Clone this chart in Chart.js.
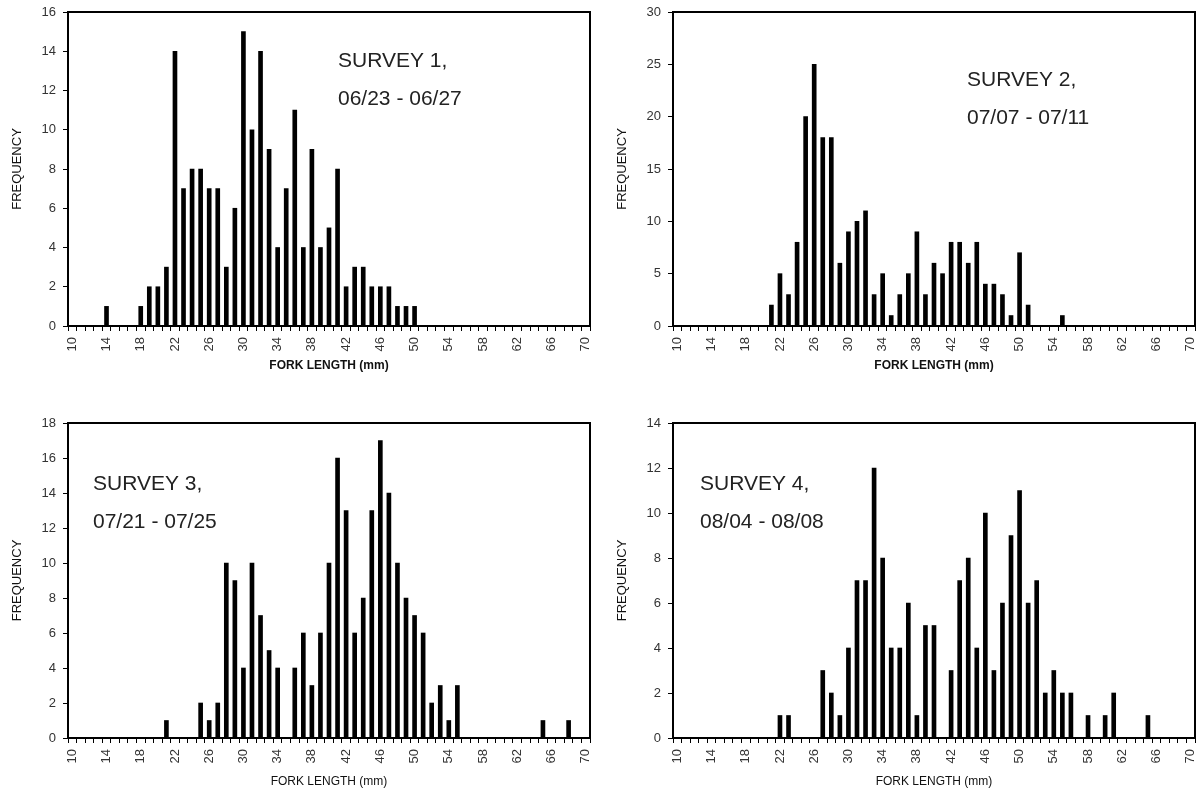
<!DOCTYPE html>
<html lang="en">
<head>
    <meta charset="UTF-8">
    <title>Fork Length Frequency by Survey</title>
    <script src="https://cdn.jsdelivr.net/npm/chart.js"></script>
    <style>
        body { margin: 0; background: #fff; width: 1199px; height: 793px; overflow: hidden; position: relative; }
        .panel { position: absolute; }
    </style>
</head>
<body>
    <div class="panel" style="left:0;top:0;"><canvas id="c1" width="600" height="377"></canvas></div>
    <div class="panel" style="left:605px;top:0;"><canvas id="c2" width="594" height="377"></canvas></div>
    <div class="panel" style="left:0;top:411px;"><canvas id="c3" width="600" height="382"></canvas></div>
    <div class="panel" style="left:605px;top:411px;"><canvas id="c4" width="594" height="382"></canvas></div>

    <script>
        // fork length classes (mm) and the labelled ones
        const forkLengths = ["10","11","12","13","14","15","16","17","18","19","20","21","22","23","24","25","26","27","28","29",
            "30","31","32","33","34","35","36","37","38","39","40","41","42","43","44","45","46","47","48","49",
            "50","51","52","53","54","55","56","57","58","59","60","61","62","63","64","65","66","67","68","69","70"];
        const xTickLabels = ["10","14","18","22","26","30","34","38","42","46","50","54","58","62","66","70"];

        // frequencies, one value per fork length 10..70
        const survey1 = [0,0,0,0,1,0,0,0,1,2, 2,3,14,7,8,8,7,7,3,6, 15,10,14,9,4,7,11,4,9,4,
            5,8,2,3,3,2,2,2,1,1, 1,0,0,0,0,0,0,0,0,0, 0,0,0,0,0,0,0,0,0,0, 0];
        const survey2 = [0,0,0,0,0,0,0,0,0,0, 0,2,5,3,8,20,25,18,18,6, 9,10,11,3,5,1,3,5,9,3,
            6,5,8,8,6,8,4,4,3,1, 7,2,0,0,0,1,0,0,0,0, 0,0,0,0,0,0,0,0,0,0, 0];
        const survey3 = [0,0,0,0,0,0,0,0,0,0, 0,1,0,0,0,2,1,2,10,9, 4,10,7,5,4,0,4,6,3,6,
            10,16,13,6,8,13,17,14,10,8, 7,6,2,3,1,3,0,0,0,0, 0,0,0,0,0,1,0,0,1,0, 0];
        const survey4 = [0,0,0,0,0,0,0,0,0,0, 0,0,1,1,0,0,0,3,2,1, 4,7,7,12,8,4,4,6,1,5,
            5,0,3,7,8,4,10,3,6,9, 11,6,7,2,3,2,2,0,1,0, 1,2,0,0,0,1,0,0,0,0, 0];

        const yMax = [16, 30, 18, 14];
        const yStep = [2, 5, 2, 2];
        const surveyNames = ["SURVEY 1,", "SURVEY 2,", "SURVEY 3,", "SURVEY 4,"];
        const surveyDates = ["06/23 - 06/27", "07/07 - 07/11", "07/21 - 07/25", "08/04 - 08/08"];

        const FONT = "'Liberation Sans', Arial, sans-serif";

        // box round the plot area (top and right sides)
        const frame = {
            id: "frame",
            afterDraw(chart) {
                const a = chart.chartArea, ctx = chart.ctx;
                ctx.save();
                ctx.strokeStyle = "#000";
                ctx.lineWidth = 2;
                ctx.strokeRect(a.left, a.top, a.right - a.left, a.bottom - a.top);
                ctx.restore();
            }
        };

        // survey name and dates written inside the plot
        const surveyText = {
            id: "surveyText",
            afterDraw(chart, args, opts) {
                const a = chart.chartArea, ctx = chart.ctx;
                ctx.save();
                ctx.fillStyle = "#222";
                ctx.font = "21px " + FONT;
                ctx.textAlign = "left";
                ctx.textBaseline = "alphabetic";
                ctx.fillText(opts.name, a.left + opts.dx, a.top + opts.dy);
                ctx.fillText(opts.dates, a.left + opts.dx, a.top + opts.dy + 38);
                ctx.restore();
            }
        };

        function makeChart(id, values, i, pad, textPos, boldTitle) {
            const xHeight = pad.height - pad.top - pad.plotH;
            new Chart(document.getElementById(id), {
                type: "bar",
                data: {
                    labels: forkLengths,
                    datasets: [{
                        data: values,
                        backgroundColor: "#000",
                        barThickness: 4
                    }]
                },
                options: {
                    responsive: false,
                    animation: false,
                    layout: { padding: { left: 6, top: pad.top, right: pad.right, bottom: 0 } },
                    plugins: {
                        legend: { display: false },
                        tooltip: { enabled: false },
                        surveyText: { name: surveyNames[i], dates: surveyDates[i], dx: textPos[0], dy: textPos[1] }
                    },
                    scales: {
                        x: {
                            grid: { offset: true, drawOnChartArea: false, drawTicks: true, tickLength: 5, color: "#000" },
                            border: { display: true, color: "#000", width: 2 },
                            ticks: {
                                autoSkip: false, minRotation: 90, maxRotation: 90, padding: 6,
                                color: "#333", font: { family: FONT, size: 13 },
                                callback: (v, idx) => xTickLabels.includes(forkLengths[idx]) ? forkLengths[idx] : ""
                            },
                            title: {
                                display: true, text: "FORK LENGTH (mm)", color: "#111",
                                font: { family: FONT, size: 12, weight: boldTitle ? "bold" : "normal" },
                                padding: { top: 4, bottom: 4 }
                            },
                            afterFit(scale) {
                                scale.height = xHeight;
                                scale.paddingLeft = 0;
                                scale.paddingRight = 0;
                            }
                        },
                        y: {
                            min: 0, max: yMax[i],
                            grid: { drawOnChartArea: false, drawTicks: true, tickLength: 5, color: "#000" },
                            border: { display: true, color: "#000", width: 2 },
                            ticks: { stepSize: yStep[i], padding: 7, color: "#333", font: { family: FONT, size: 13 } },
                            title: {
                                display: true, text: "FREQUENCY", color: "#111",
                                font: { family: FONT, size: 13 },
                                padding: { top: 4, bottom: 4 }
                            },
                            afterFit(scale) {
                                scale.width = 62;
                                scale.paddingTop = 0;
                                scale.paddingBottom = 0;
                            }
                        }
                    }
                },
                plugins: [frame, surveyText]
            });
        }

        makeChart("c1", survey1, 0, { top: 12, right: 10, height: 377, plotH: 314 }, [270, 55], true);
        makeChart("c2", survey2, 1, { top: 12, right: 4, height: 377, plotH: 314 }, [294, 74], true);
        makeChart("c3", survey3, 2, { top: 12, right: 10, height: 382, plotH: 315 }, [25, 67], false);
        makeChart("c4", survey4, 3, { top: 12, right: 4, height: 382, plotH: 315 }, [27, 67], false);
    </script>
</body>
</html>
